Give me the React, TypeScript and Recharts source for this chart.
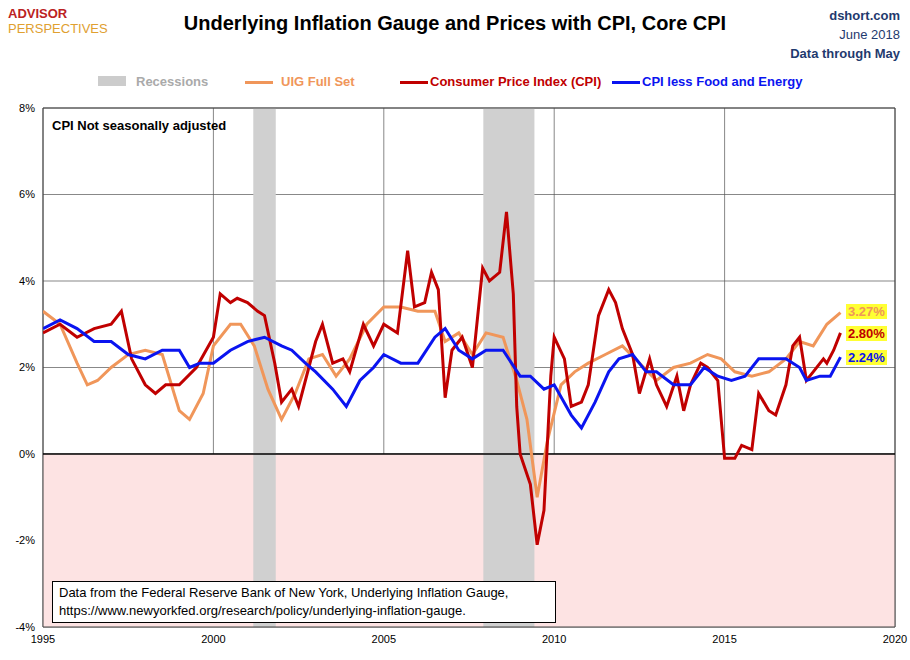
import React from "react";
import { LineChart, Line, XAxis, YAxis, CartesianGrid, ReferenceArea, ReferenceLine } from "recharts";

const cpiX = [1995,1995.5,1996,1996.5,1997,1997.3,1997.6,1998,1998.3,1998.6,1999,1999.5,2000,2000.2,2000.5,2000.7,2001,2001.3,2001.5,2001.8,2002,2002.3,2002.5,2002.8,2003,2003.2,2003.5,2003.8,2004,2004.4,2004.7,2005,2005.4,2005.7,2005.9,2006.2,2006.4,2006.6,2006.8,2007,2007.3,2007.6,2007.9,2008.1,2008.4,2008.6,2008.8,2008.9,2009,2009.3,2009.5,2009.7,2009.9,2010,2010.3,2010.5,2010.8,2011,2011.3,2011.6,2011.8,2012,2012.3,2012.5,2012.8,2013,2013.3,2013.6,2013.8,2014,2014.3,2014.5,2014.8,2015,2015.3,2015.5,2015.8,2016,2016.3,2016.5,2016.8,2017,2017.2,2017.4,2017.6,2017.9,2018,2018.2,2018.4];
const cpiY = [2.8,3.0,2.7,2.9,3.0,3.3,2.2,1.6,1.4,1.6,1.6,2.0,2.7,3.7,3.5,3.6,3.5,3.3,3.2,2.1,1.2,1.5,1.1,2.0,2.6,3.0,2.1,2.2,1.9,3.0,2.5,3.0,2.8,4.7,3.4,3.5,4.2,3.8,1.3,2.4,2.7,2.0,4.3,4.0,4.2,5.6,3.7,1.1,0.0,-0.7,-2.1,-1.3,1.8,2.7,2.2,1.1,1.2,1.6,3.2,3.8,3.5,2.9,2.3,1.4,2.2,1.6,1.1,1.8,1.0,1.6,2.1,2.0,1.7,-0.1,-0.1,0.2,0.1,1.4,1.0,0.9,1.6,2.5,2.7,1.7,1.9,2.2,2.1,2.4,2.8];
const coreX = [1995,1995.5,1996,1996.5,1997,1997.5,1998,1998.5,1999,1999.3,1999.6,2000,2000.5,2001,2001.5,2002,2002.3,2002.7,2003,2003.5,2003.9,2004.3,2004.7,2005,2005.5,2006,2006.5,2006.8,2007.2,2007.6,2008,2008.5,2009,2009.3,2009.7,2010,2010.5,2010.8,2011.2,2011.6,2011.9,2012.3,2012.7,2013,2013.5,2014,2014.4,2014.8,2015.2,2015.6,2016,2016.4,2016.8,2017.2,2017.4,2017.8,2018.1,2018.4];
const coreY = [2.9,3.1,2.9,2.6,2.6,2.3,2.2,2.4,2.4,2.0,2.1,2.1,2.4,2.6,2.7,2.5,2.4,2.1,1.9,1.5,1.1,1.7,2.0,2.3,2.1,2.1,2.7,2.9,2.4,2.2,2.4,2.4,1.8,1.8,1.5,1.6,0.9,0.6,1.2,1.9,2.2,2.3,1.9,1.9,1.6,1.6,2.0,1.8,1.7,1.8,2.2,2.2,2.2,2.0,1.7,1.8,1.8,2.24];
const uigX = [1995,1995.5,1996,1996.3,1996.6,1997,1997.5,1998,1998.5,1999,1999.3,1999.7,2000,2000.5,2000.8,2001.2,2001.6,2002,2002.4,2002.8,2003.2,2003.6,2004,2004.5,2005,2005.5,2006,2006.5,2006.8,2007.2,2007.6,2008,2008.5,2008.9,2009.2,2009.5,2009.8,2010.2,2010.6,2011,2011.5,2012,2012.5,2013,2013.5,2014,2014.5,2014.9,2015.3,2015.8,2016.3,2016.8,2017.2,2017.6,2018,2018.4];
const uigY = [3.3,3.0,2.1,1.6,1.7,2.0,2.3,2.4,2.3,1.0,0.8,1.4,2.5,3.0,3.0,2.5,1.5,0.8,1.4,2.2,2.3,1.8,2.2,3.0,3.4,3.4,3.3,3.3,2.6,2.8,2.3,2.8,2.7,1.7,0.8,-1.0,0.3,1.6,1.9,2.1,2.3,2.5,2.1,1.7,2.0,2.1,2.3,2.2,1.9,1.8,1.9,2.2,2.6,2.5,3.0,3.27];
const xTicks = [1995,2000,2005,2010,2015,2020];
const yTicks = [-4,-2,0,2,4,6,8];

const mk = (xs: number[], ys: number[]) => xs.map((x, i) => ({ x, y: ys[i] }));
const font = "Arial, 'Liberation Sans', sans-serif";

export default function App() {
  return (
    <div style={{ position: "absolute", left: 0, top: 0, width: 910, height: 660, background: "#fff", fontFamily: font }}>
      <LineChart width={910} height={660} margin={{ top: 108, right: 15, bottom: 0, left: 0 }}>
        <ReferenceArea x1={1995} x2={2020} y1={-4} y2={0} fill="#fde3e3" fillOpacity={1} stroke="none" />
        <ReferenceArea x1={2001.17} x2={2001.83} y1={-4} y2={8} fill="#d0d0d0" fillOpacity={1} stroke="none" />
        <ReferenceArea x1={2007.92} x2={2009.42} y1={-4} y2={8} fill="#d0d0d0" fillOpacity={1} stroke="none" />
        <CartesianGrid stroke="#555" strokeWidth={0.7} />
        <XAxis type="number" dataKey="x" domain={[1995, 2020]} ticks={xTicks} allowDataOverflow tickLine={false} axisLine={false} tick={{ fontSize: 11, fill: "#000" }} height={33} />
        <YAxis type="number" domain={[-4, 8]} ticks={yTicks} tickFormatter={(v) => v + "%"} tickLine={false} axisLine={false} tick={{ fontSize: 11, fill: "#000" }} width={43} />
        <ReferenceLine y={0} stroke="#000" strokeWidth={1.5} />
        <Line data={mk(uigX, uigY)} dataKey="y" stroke="#f0965a" strokeWidth={3} dot={false} isAnimationActive={false} />
        <Line data={mk(cpiX, cpiY)} dataKey="y" stroke="#c00000" strokeWidth={3} dot={false} isAnimationActive={false} />
        <Line data={mk(coreX, coreY)} dataKey="y" stroke="#0a14f0" strokeWidth={3} dot={false} isAnimationActive={false} />
        <ReferenceArea x1={1995} x2={2020} y1={-4} y2={8} fill="none" stroke="#444" strokeWidth={1} />
      </LineChart>
      <div style={{ position: "absolute", left: 8, top: 6, fontSize: 13, fontWeight: "bold", color: "#b22", lineHeight: "15px" }}>ADVISOR</div>
      <div style={{ position: "absolute", left: 8, top: 21, fontSize: 13, color: "#e0a030", lineHeight: "15px" }}>PERSPECTIVES</div>
      <div style={{ position: "absolute", left: 0, width: 910, top: 12, textAlign: "center", fontSize: 20, fontWeight: "bold" }}>Underlying Inflation Gauge and Prices with CPI, Core CPI</div>
      <div style={{ position: "absolute", right: 10, top: 6, textAlign: "right", fontSize: 13, color: "#1f3a6e", lineHeight: "19px" }}>
        <div style={{ fontWeight: "bold" }}>dshort.com</div><div>June 2018</div><div style={{ fontWeight: "bold" }}>Data through May</div>
      </div>
      <div style={{ position: "absolute", top: 74, left: 0, fontSize: 13, fontWeight: "bold", whiteSpace: "nowrap" }}>
        <span style={{ position: "absolute", left: 98 }}><span style={{ display: "inline-block", width: 28, height: 10, background: "#ccc", marginRight: 10 }} /><span style={{ color: "#aaa" }}>Recessions</span></span>
        <span style={{ position: "absolute", left: 245 }}><span style={{ display: "inline-block", width: 28, height: 3, background: "#f0965a", verticalAlign: "middle", marginRight: 8 }} /><span style={{ color: "#f0965a" }}>UIG Full Set</span></span>
        <span style={{ position: "absolute", left: 400 }}><span style={{ display: "inline-block", width: 28, height: 3, background: "#c00000", verticalAlign: "middle", marginRight: 2 }} /><span style={{ color: "#c00000" }}>Consumer Price Index (CPI)</span></span>
        <span style={{ position: "absolute", left: 612 }}><span style={{ display: "inline-block", width: 28, height: 3, background: "#0a14f0", verticalAlign: "middle", marginRight: 2 }} /><span style={{ color: "#0a14f0" }}>CPI less Food and Energy</span></span>
      </div>
      <div style={{ position: "absolute", left: 52, top: 118, fontSize: 13, fontWeight: "bold" }}>CPI Not seasonally adjusted</div>
      <div style={{ position: "absolute", left: 52, top: 581, width: 490, border: "1px solid #000", background: "#fff", fontSize: 13, padding: "2px 6px", lineHeight: "18px" }}>
        Data from the Federal Reserve Bank of New York, Underlying Inflation Gauge,<br />https://www.newyorkfed.org/research/policy/underlying-inflation-gauge.
      </div>
      {[["3.27%", 304, "#f0965a"], ["2.80%", 326, "#c00000"], ["2.24%", 350, "#0a14f0"]].map(([t, top, c]) => (
        <div key={t as string} style={{ position: "absolute", left: 846, top: top as number, background: "#ffff33", color: c as string, fontSize: 13, fontWeight: "bold", padding: "0 2px" }}>{t}</div>
      ))}
    </div>
  );
}
